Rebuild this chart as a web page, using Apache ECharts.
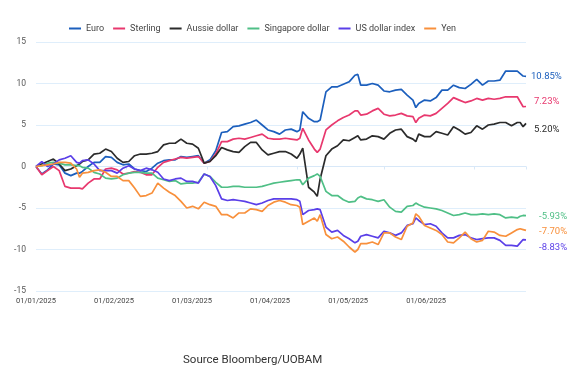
<!DOCTYPE html>
<html>
<head>
<meta charset="utf-8">
<script src="https://cdn.jsdelivr.net/npm/echarts@6/dist/echarts.min.js"></script>
<style>
  html, body { margin: 0; padding: 0; background: #fff; }
  #chart { width: 586px; height: 376px; }
</style>
</head>
<body>
<div id="chart"></div>
<script>
var dates = [
  '2025-01-01','2025-01-03','2025-01-05','2025-01-07','2025-01-09','2025-01-11','2025-01-13','2025-01-15','2025-01-16','2025-01-17',
  '2025-01-19','2025-01-21','2025-01-23','2025-01-25','2025-01-27','2025-01-29','2025-01-31','2025-02-02','2025-02-04','2025-02-06',
  '2025-02-08','2025-02-10','2025-02-12','2025-02-14','2025-02-16','2025-02-18','2025-02-20','2025-02-22','2025-02-24','2025-02-26',
  '2025-02-28','2025-03-02','2025-03-04','2025-03-06','2025-03-08','2025-03-10','2025-03-12','2025-03-14','2025-03-16','2025-03-18',
  '2025-03-20','2025-03-22','2025-03-24','2025-03-26','2025-03-28','2025-03-30','2025-04-01','2025-04-02','2025-04-03','2025-04-05',
  '2025-04-07','2025-04-08','2025-04-09','2025-04-11','2025-04-13','2025-04-15','2025-04-17','2025-04-19','2025-04-21','2025-04-22',
  '2025-04-23','2025-04-25','2025-04-27','2025-04-29','2025-05-01','2025-05-03','2025-05-05','2025-05-07','2025-05-09','2025-05-11',
  '2025-05-12','2025-05-13','2025-05-15','2025-05-17','2025-05-19','2025-05-21','2025-05-23','2025-05-25','2025-05-27','2025-05-29',
  '2025-05-31','2025-06-02','2025-06-04','2025-06-06','2025-06-08','2025-06-10','2025-06-12','2025-06-14','2025-06-16','2025-06-17',
  '2025-06-18','2025-06-19'
]

var euro = [
  0, -0.9, -0.4, 0.3, 0.2, -0.8, -1.1, -0.8, -0.8, -0.6,
  0.0, 0.5, 0.5, 1.2, 1.1, 0.5, 0.2, 0.3, -0.3, -0.5,
  -0.6, -0.2, 0.4, 0.7, 0.8, 0.8, 1.2, 1.1, 1.2, 1.3,
  0.4, 0.8, 1.9, 4.1, 4.2, 4.8, 4.9, 5.1, 5.3, 5.6,
  5.0, 4.4, 4.2, 3.9, 4.4, 4.5, 4.2, 4.4, 6.6, 5.8,
  5.4, 5.4, 5.6, 9.0, 9.6, 9.6, 9.9, 10.2, 11.0, 11.1,
  9.8, 9.8, 10.0, 9.8, 9.1, 9.0, 9.2, 9.3, 8.6, 8.0,
  7.1, 7.6, 8.0, 7.9, 8.3, 9.2, 9.2, 9.8, 9.5, 9.4,
  9.9, 10.5, 9.8, 10.3, 10.3, 10.4, 11.5, 11.5, 11.5, 11.2,
  10.9, 10.85
]
var sterling = [
  0, -1.0, -0.5, 0.0, -0.5, -2.4, -2.6, -2.6, -2.6, -2.7,
  -2.0, -1.5, -1.5, -0.3, -0.2, -0.4, -0.9, -0.8, -0.6, -0.7,
  -1.0, -1.0, -0.1, 0.5, 0.7, 0.9, 1.1, 1.0, 1.1, 1.2,
  0.4, 0.6, 1.5, 3.0, 3.0, 3.3, 3.4, 3.3, 3.5, 3.7,
  3.9, 3.4, 3.3, 3.3, 3.4, 3.3, 3.2, 3.4, 4.6, 3.2,
  2.1, 1.7, 2.1, 4.4, 5.0, 5.5, 5.9, 6.2, 6.7, 6.7,
  6.2, 6.3, 6.7, 7.0, 6.3, 6.1, 6.2, 6.4, 6.1, 6.0,
  5.3, 5.8, 6.2, 6.1, 6.4, 7.0, 7.6, 8.3, 8.0, 7.7,
  7.9, 8.2, 8.0, 8.2, 8.1, 8.2, 8.4, 8.4, 8.4, 7.8,
  7.2, 7.23
]
var aussie = [
  0, 0.3, 0.6, 0.9, 0.3, -0.5, -0.3, 0.1, 0.3, 0.6,
  0.8, 1.5, 1.6, 2.1, 1.8, 1.0, 0.5, 0.6, 1.3, 1.5,
  1.5, 1.6, 1.8, 2.6, 2.8, 2.8, 3.3, 2.8, 2.7, 2.2,
  0.4, 0.6, 1.3, 2.3, 2.0, 1.8, 1.7, 2.4, 2.9, 2.9,
  2.0, 1.4, 1.6, 1.8, 1.8, 1.5, 1.0, 1.5, 2.2, -2.5,
  -3.1, -3.6, -1.5, 1.3, 2.1, 2.5, 3.2, 3.1, 3.5, 3.7,
  3.2, 3.3, 3.7, 3.6, 3.3, 4.0, 4.4, 4.5, 3.6, 3.3,
  3.0, 3.9, 3.6, 3.6, 4.2, 4.0, 3.8, 4.8, 4.4, 3.9,
  4.1, 4.9, 4.5, 5.0, 5.1, 5.3, 5.3, 4.9, 5.3, 5.3,
  4.8, 5.20
]
var singapore = [
  0, 0.1, 0.4, 0.5, 0.4, 0.2, 0.2, 0.1, 0.1, -0.1,
  -0.2, -0.7, -0.9, -1.4, -1.5, -1.4, -1.0, -0.8, -0.7, -0.7,
  -0.8, -0.8, -1.4, -1.6, -1.8, -1.7, -2.1, -2.0, -2.0, -1.9,
  -0.9, -1.2, -1.9, -2.5, -2.5, -2.4, -2.4, -2.5, -2.5, -2.5,
  -2.4, -2.2, -2.0, -1.9, -1.8, -1.7, -1.6, -1.6, -2.2, -1.4,
  -1.1, -0.9, -1.2, -3.0, -3.5, -3.5, -4.0, -4.3, -4.2, -3.8,
  -3.6, -3.9, -4.0, -4.2, -4.0, -4.9, -5.4, -5.5, -4.8, -4.7,
  -4.4, -4.6, -4.9, -5.0, -5.1, -5.3, -5.6, -5.9, -5.8, -5.6,
  -5.8, -5.8, -5.7, -5.8, -5.7, -5.8, -6.2, -6.1, -6.2, -6.0,
  -5.9, -5.93
]
var usdIndex = [
  0, 0.6, 0.0, 0.3, 0.8, 1.0, 1.3, 0.5, 0.4, 0.7,
  0.8, 0.3, -0.5, -0.5, -0.5, -0.8, -0.2, 0.1, -0.3, -0.5,
  -0.2, -0.4, -0.7, -1.5, -1.7, -1.5, -1.4, -1.8, -1.8, -2.0,
  -0.9, -1.2, -2.3, -3.9, -4.1, -4.0, -4.1, -4.2, -4.4, -4.6,
  -4.4, -4.1, -3.9, -3.9, -3.9, -3.9, -4.0, -4.2, -5.8, -5.3,
  -5.2, -5.1, -5.2, -7.3, -7.9, -7.7, -8.3, -8.7, -9.2, -9.0,
  -8.4, -8.2, -8.4, -8.6, -7.8, -8.0, -8.3, -8.0, -7.1, -6.9,
  -6.2, -6.5, -7.0, -6.9, -7.2, -8.0, -8.6, -8.6, -8.3, -8.2,
  -8.6, -8.8, -8.7, -8.6, -8.6, -8.9, -9.5, -9.5, -9.6, -9.2,
  -8.8, -8.83
]
var yen = [
  0, 0.1, 0.2, 0.3, 0.5, 0.5, 0.4, -0.3, -1.3, -0.8,
  -0.7, -0.5, -0.4, -0.7, -1.2, -1.2, -1.7, -1.7, -2.6, -3.6,
  -3.5, -3.2, -2.0, -2.6, -3.1, -3.5, -4.2, -5.0, -4.8, -5.1,
  -4.3, -4.6, -4.8, -5.8, -5.8, -6.2, -5.6, -5.6, -5.1, -5.2,
  -5.4, -4.7, -4.3, -4.1, -4.3, -4.6, -4.7, -4.9, -7.0, -6.6,
  -6.2, -6.6, -5.8, -8.2, -8.7, -8.5, -9.0, -9.7, -10.3, -10.0,
  -9.3, -9.3, -9.1, -9.4, -8.0, -8.0, -8.5, -8.8, -7.2, -6.8,
  -5.7, -6.0, -7.1, -7.4, -7.7, -8.2, -9.1, -9.2, -8.6, -7.9,
  -8.7, -9.1, -8.9, -7.8, -7.9, -8.3, -8.4, -8.0, -7.6, -7.5,
  -7.6, -7.70
]

var names = ['Euro', 'Sterling', 'Aussie dollar', 'Singapore dollar', 'US dollar index', 'Yen']
var colors = ['#1c5fbd', '#e8386e', '#2b2b2b', '#4fbf86', '#5a3fe8', '#f8903c']
var endTexts = ['10.85%', '7.23%', '5.20%', '-5.93%', '-8.83%', '-7.70%']
var endOffsets = [[0, 0], [3, -5], [3, 6], [8, 1], [8, 8], [8, 1]]
var xLabels = ['01/01/2025', '01/02/2025', '01/03/2025', '01/04/2025', '01/05/2025', '01/06/2025']

var values = [euro, sterling, aussie, singapore, usdIndex, yen]
var font = 'Roboto, "Noto Sans", sans-serif'

var chart = echarts.init(document.getElementById('chart'))

var series = []
for (var i = 0; i < names.length; ++i) {
  var pts = []
  for (var j = 0; j < dates.length; ++j) {
    pts.push([dates[j], values[i][j]])
  }
  series.push({
    name: names[i],
    type: 'line',
    data: pts,
    showSymbol: false,
    symbol: 'none',
    lineStyle: { width: 1.7, color: colors[i] },
    itemStyle: { color: colors[i] },
    endLabel: {
      show: true,
      formatter: endTexts[i],
      color: colors[i],
      fontSize: 9.5,
      fontFamily: font,
      distance: 5,
      offset: endOffsets[i]
    }
  })
}

var option = {
  animation: false,
  title: {
    text: 'Source Bloomberg/UOBAM',
    left: 178,
    top: 349,
    textStyle: { fontSize: 11.5, fontWeight: 'normal', color: '#333', fontFamily: font }
  },
  legend: {
    data: names,
    left: 64,
    top: 19,
    icon: 'rect',
    itemWidth: 12,
    itemHeight: 2,
    itemGap: 9,
    textStyle: { fontSize: 9, color: '#444', fontFamily: font }
  },
  grid: { left: 36, right: 60, top: 42, bottom: 85 },
  xAxis: [
    {
      type: 'time',
      min: '2025-01-01',
      max: 'dataMax',
      axisLine: { onZero: true, lineStyle: { color: '#d8e8f8' } },
      axisTick: { show: true, length: 3, lineStyle: { color: '#d8e8f8' } },
      axisLabel: { show: false },
      splitLine: { show: false }
    },
    {
      type: 'value',
      position: 'bottom',
      min: 0,
      max: 6.28,
      interval: 1,
      axisLine: { show: false, onZero: false },
      axisTick: { show: false },
      splitLine: { show: false },
      axisLabel: {
        margin: 6,
        fontSize: 7.5,
        color: '#444',
        fontFamily: font,
        formatter: function(v) {
          return Math.abs(v - Math.round(v)) < 1e-6 && xLabels[Math.round(v)] ? xLabels[Math.round(v)] : ''
        }
      }
    }
  ],
  yAxis: {
    type: 'value',
    min: -15,
    max: 15,
    interval: 5,
    axisLine: { show: false },
    axisTick: { show: false },
    axisLabel: { margin: 10, fontSize: 8.5, color: '#555', fontFamily: font },
    splitLine: { lineStyle: { color: '#dfeefb', width: 1 } }
  },
  series: series
}

chart.setOption(option)
</script>
</body>
</html>
